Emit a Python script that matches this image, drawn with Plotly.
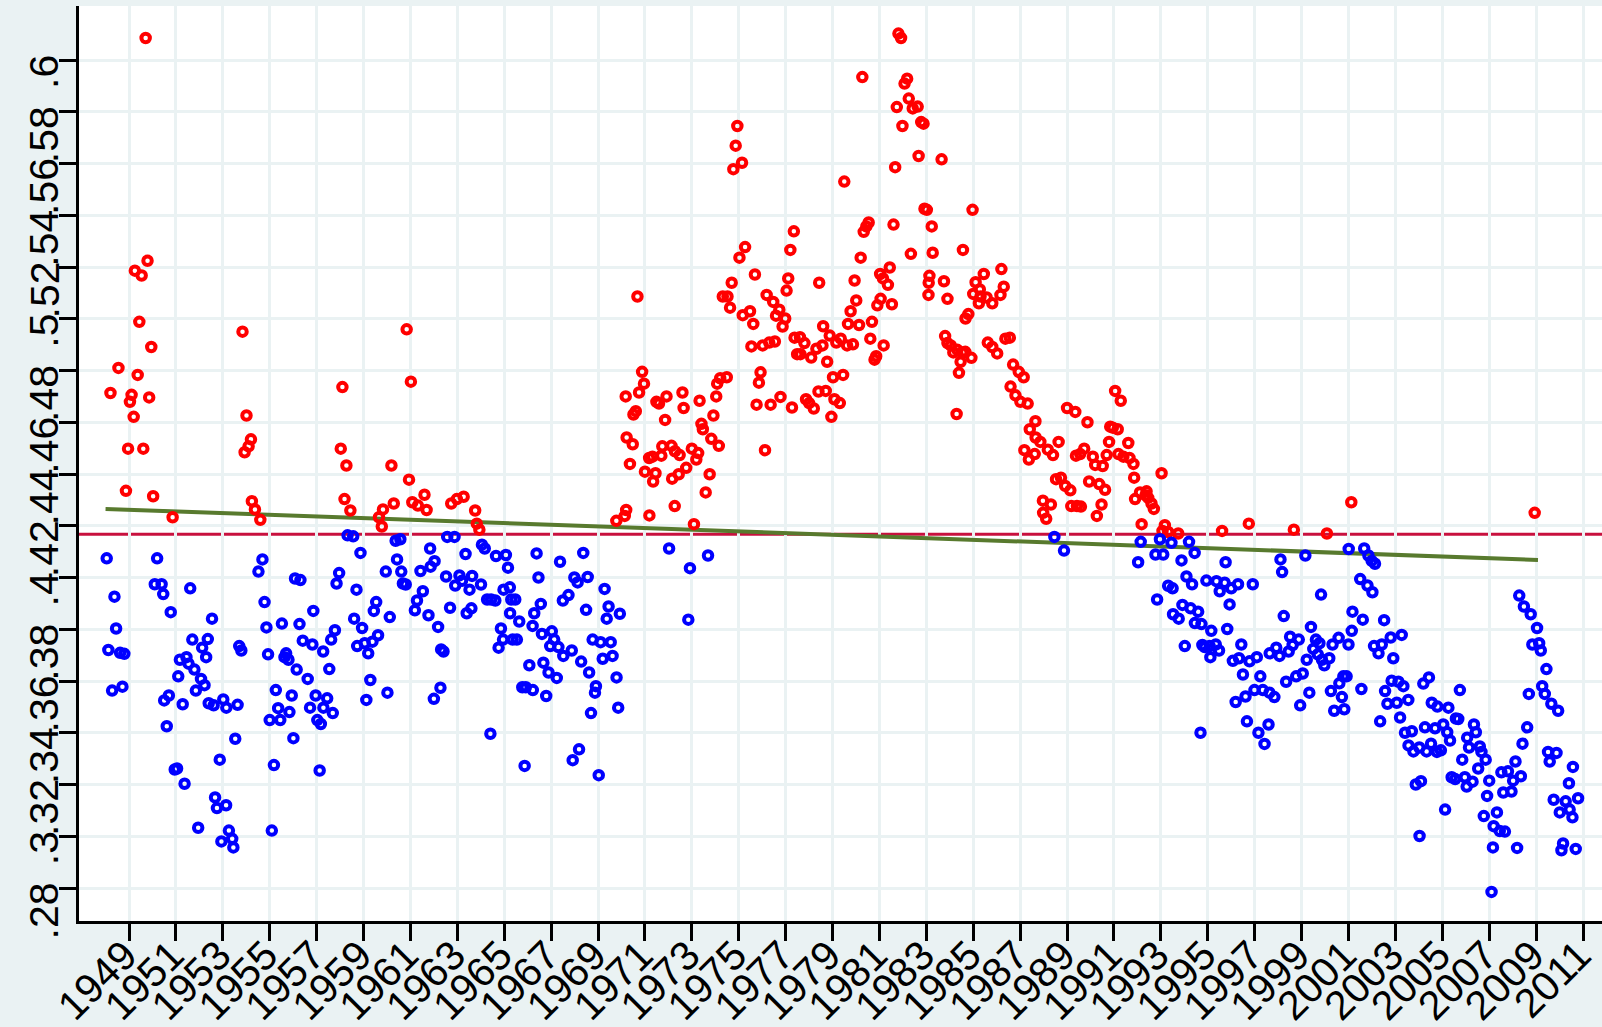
import plotly.graph_objects as go

# ---------------- data ----------------
red_x = [1949.71,1949.25,1949.54,1949.79,1949.44,1949.95,1948.55,1949.37,1948.21,1949.11,1949.04,1949.86,1949.20,1948.96,1949.61,1948.87,1950.03,1950.86,
         1953.84,1954.01,1954.20,1954.10,1953.93,1954.24,1954.37,1954.60,
         1958.10,1958.03,1958.27,1958.19,1958.44,1960.84,1961.02,1960.19,1960.94,1961.60,1961.08,1961.32,1961.69,1960.29,1959.83,1959.66,1959.78,
         1962.74,1962.98,1963.27,1963.76,1963.83,1963.94,
         1969.78,1970.14,1970.20,1971.19,1970.36,1970.22,1970.48,1970.18,1970.51,1970.61,1970.75,1970.96,1970.88,1970.68,1971.00,1971.18,1971.32,
         1971.45,1971.35,1971.70,1971.74,1971.49,1971.60,1971.92,1971.86,1972.13,1972.28,1972.48,1972.16,1972.44,1972.76,1972.27,1972.60,1972.65,
         1973.00,1973.27,1973.19,1973.33,1973.47,1973.41,1973.76,1973.59,1973.09,1973.83,1973.92,1974.15,1974.04,1974.08,1974.21,1974.32,
         1974.49,1974.94,1974.87,1975.14,1974.77,1975.27,1975.03,1974.70,1974.52,1974.63,1975.69,1975.17,1975.48,1975.62,1976.19,1976.47,1976.73,
         1976.59,1976.98,1976.87,1975.54,1976.02,1976.30,1976.54,1975.93,1975.86,1975.76,1976.36,1976.78,1976.12,1977.35,1977.20,1977.11,1977.04,
         1977.38,1977.61,1977.80,1977.49,1977.63,1978.09,1978.31,1978.57,1978.43,1977.27,1977.87,1978.00,1978.20,1978.40,1978.71,1978.77,1978.60,
         1978.88,1979.16,1979.35,1979.62,1979.87,1979.02,1979.45,1979.08,1979.31,1978.95,1979.66,1980.13,1979.77,1980.01,1979.94,1979.50,1980.27,
         1980.20,1980.33,1980.44,1980.54,1980.61,1980.79,1980.86,1981.18,1980.68,1980.91,1981.05,1981.03,1981.15,1981.44,1981.36,1981.53,1981.60,
         1981.67,1981.74,1981.98,1982.07,1982.18,1982.25,1982.42,1982.63,1982.78,1982.88,1982.67,1981.81,1981.92,1982.34,1982.92,1983.02,1983.23,
         1983.27,1983.13,1983.10,1983.09,
         1983.65,1983.75,1983.90,1984.97,1984.56,1983.80,1983.90,1984.04,1984.15,1984.32,1984.53,1984.66,1984.92,1984.46,1984.39,1984.29,1984.67,
         1984.79,1985.00,1985.10,1985.28,1985.45,1985.31,1985.24,1985.57,1985.81,1986.16,1986.30,1986.20,1985.62,1985.81,1986.02,1986.37,1986.56,
         1986.70,1986.94,1987.15,1986.59,1986.80,1987.01,1987.32,1987.65,1987.41,1987.66,1987.86,1988.18,1988.40,1988.64,1987.18,1987.37,1987.62,
         1988.53,1988.74,1988.92,1989.14,1987.97,1988.31,1987.98,1988.11,1989.00,1989.35,1989.87,1989.18,1989.42,1989.59,1989.38,1989.56,1989.73,
         1989.94,1990.10,1990.20,1990.37,1990.62,1990.47,1990.27,1990.52,1990.69,1990.79,1990.84,1991.05,1991.29,1990.95,1991.16,1991.19,1991.40,
         1991.61,1991.66,1991.83,1991.86,1991.90,1992.11,1992.18,
         1992.39,1992.46,1992.60,1992.70,1992.35,1993.03,1993.17,1993.31,1993.74,1993.07,1995.61,1996.75,1998.67,2000.08,2001.12,2008.94]
red_y = [.6085,.5186,.5167,.5224,.4988,.4891,.4810,.4783,.4713,.4706,.4679,.4696,.4621,.4498,.4498,.4335,.4314,.4233,
         .4950,.4626,.4534,.4507,.4484,.4295,.4263,.4223,
         .4736,.4498,.4433,.4303,.4259,.4959,.4757,.4433,.4378,.4320,.4291,.4278,.4261,.4286,.4263,.4233,.4197,
         .4286,.4303,.4312,.4259,.4208,.4185,
         .4219,.4238,.4261,.4240,.4439,.4541,.4515,.4700,.4630,.4643,.4715,.4749,.4795,.5086,.4409,.4462,.4467,
         .4403,.4371,.4471,.4507,.4679,.4672,.4700,.4609,.4509,.4488,.4473,.4382,.4399,.4424,.4276,.4715,.4655,
         .4498,.4481,.4456,.4683,.4573,.4594,.4399,.4329,.4206,.4536,.4626,.4509,.4700,.4749,.4770,.5086,
         .4774,.5745,.5669,.5603,.5578,.5277,.5236,.5139,.5086,.5043,.5171,.5014,.5029,.4980,.5092,.5065,.5035,
         .5012,.5001,.4970,.4893,.4897,.4908,.4912,.4793,.4753,.4668,.4668,.4698,.4492,.5338,.5266,.5156,.5109,
         .4927,.4929,.4906,.4863,.4863,.4850,.4884,.4897,.5139,.4657,.4689,.4674,.4653,.4719,.4721,.4834,.4971,
         .4935,.4908,.4923,.4897,.4901,.4774,.4783,.4689,.4674,.4621,.4980,.4976,.5029,.5071,.5148,.5530,.5934,
         .5236,.5336,.5357,.5372,.4923,.4842,.4855,.4897,.4988,.5052,.5077,.5173,.5156,.5198,.5131,.5056,.5364,
         .5586,.5818,.5745,.5909,.5928,.5851,.5813,.5820,.5760,.5754,.5629,.6102,.6085,.5251,.5425,.5421,.5357,
         .5255,.5166,.5139,.5092,
         .5616,.5145,.5077,.5421,.5266,.4933,.4906,.4897,.4870,.4880,.4870,.4872,.4849,.4834,.4791,.4632,.5001,
         .5018,.5096,.5141,.5113,.5173,.5086,.5060,.5082,.5060,.5092,.5124,.5192,.4908,.4891,.4866,.4923,.4927,
         .4823,.4795,.4774,.4738,.4704,.4679,.4672,.4604,.4573,.4541,.4524,.4494,.4473,.4524,.4492,.4456,.4477,
         .4380,.4386,.4354,.4337,.4297,.4282,.4250,.4227,.4655,.4640,.4600,.4276,.4276,.4274,.4471,.4477,.4498,
         .4371,.4467,.4435,.4361,.4339,.4282,.4238,.4431,.4473,.4524,.4583,.4721,.4683,.4579,.4573,.4477,.4467,
         .4520,.4462,.4439,.4386,.4303,.4329,.4206,
         .4333,.4308,.4286,.4265,.4318,.4403,.4202,.4176,.4170,.4180,.4180,.4208,.4185,.4170,.4291,.4250]

blue_x = [1948.05,1948.38,1948.45,1948.12,1948.62,1948.80,1948.28,1948.72,1950.20,1950.10,1950.39,1950.46,1950.78,1951.61,1952.54,1951.70,
          1952.36,1952.12,1952.29,1951.17,1951.45,1951.54,1951.79,1952.07,1952.22,1951.85,1951.10,1950.70,1950.50,1951.29,1952.40,1952.61,
          1953.02,1953.15,1953.63,1950.61,1953.53,1952.87,1950.95,1951.05,1951.37,1952.67,1952.75,1953.14,1951.95,1953.26,1952.94,1953.40,
          1953.45,1953.70,1953.79,1955.09,1954.69,1954.52,1954.78,1954.86,1955.52,1954.93,1955.26,1955.63,1955.70,1955.80,1955.36,1955.00,
          1955.45,1955.84,1955.94,1956.01,1955.18,1956.15,1956.08,1956.27,1956.31,1956.41,
          1958.32,1958.56,1958.87,1957.96,1957.85,1958.70,1956.86,1957.78,1957.62,1957.28,1956.82,1957.54,1956.62,1956.96,1957.45,1956.72,
          1957.29,1957.69,1957.03,1957.18,1957.13,1958.60,1958.94,1958.73,1959.05,1959.20,1959.38,1959.62,1959.44,1959.54,1960.12,1959.95,
          1959.29,1959.12,1960.02,1960.37,1960.57,1960.43,1960.61,1960.68,1960.80,1961.84,1962.03,1961.86,1961.43,1961.53,1961.28,1961.19,
          1961.77,1962.18,1962.31,1962.41,1962.28,1962.00,1962.52,1962.69,1962.57,1962.88,1962.91,1963.09,1963.35,1963.20,1963.52,1963.63,
          1964.01,1963.60,1963.40,1964.05,1964.17,1964.27,1964.44,1964.62,1964.65,1965.07,1965.16,1964.97,1965.24,1965.30,1965.25,1964.86,
          1964.95,1964.76,1965.36,1964.41,
          1966.38,1966.46,1965.47,1966.56,1966.28,1965.64,1966.21,1965.54,1966.61,1967.03,1967.13,1966.96,1966.07,1966.67,1966.89,1967.24,
          1965.77,1965.92,1966.22,1966.79,1967.38,1967.99,1968.13,1968.56,1968.37,1967.74,1967.50,1968.49,1967.31,1967.52,1967.88,1968.28,
          1968.62,1968.91,1968.87,1968.70,1968.77,1969.11,1969.54,1969.20,1969.62,1969.28,1969.45,1969.37,1969.93,1969.79,1969.86,1968.19,
          1967.92,1969.03,1965.87,1972.03,1972.92,1973.69,1972.85,
          1988.46,1988.87,1992.14,1992.03,
          1992.96,1992.77,1993.10,1993.45,1994.20,1993.88,1994.44,1992.84,1993.31,1993.50,1994.09,1994.33,1993.52,1993.76,1993.92,1994.27,
          1994.59,1994.45,1994.73,1995.15,1994.77,1994.87,1995.08,1995.34,1995.11,1995.48,1994.02,1994.69,1994.94,1995.37,1995.51,1995.76,
          1995.72,1996.00,1996.29,1995.93,1995.83,1996.92,1996.43,1996.07,1996.33,1996.78,1997.09,1996.50,1996.19,1996.61,1996.99,1997.24,
          1997.35,1997.63,1997.84,1996.67,1997.16,1997.42,1997.59,1997.64,1997.92,1998.06,1998.45,1998.51,1998.62,1998.88,1998.34,1998.10,
          1998.17,1998.24,1999.16,1998.77,1999.05,1998.94,1999.22,1999.33,1999.40,1999.50,1999.61,1999.76,1999.69,1999.87,1999.97,2000.18,
          2000.32,2000.58,2001.00,1999.83,2000.25,2000.39,2000.61,2000.78,2000.92,2000.72,2000.82,2001.01,2001.17,2001.14,
          2001.67,2001.85,2001.99,2002.13,2001.50,2001.81,2002.02,2001.61,2002.52,2002.80,2003.27,2002.09,2002.42,2002.28,2002.91,2001.55,
          2002.56,2002.66,2002.84,2003.13,2003.34,2003.06,2003.55,2002.35,2003.20,2003.41,2003.70,2003.56,2003.77,2004.02,2004.33,2003.87,
          2004.09,2004.03,2004.19,2004.43,2004.26,2004.55,2004.79,2004.52,2004.77,2004.94,2004.69,2005.04,2005.21,2005.26,2005.33,2005.12,
          2005.58,2005.68,2005.75,2005.40,2005.55,2005.85,2005.96,2006.04,2006.29,2006.06,2006.14,2006.35,2006.43,2006.60,2006.67,2006.53,
          2006.85,2007.00,2006.77,2006.91,2007.19,2007.33,2007.45,2007.67,2007.16,2008.19,2007.52,2007.80,2007.60,2007.95,2008.02,2008.12,
          2008.35,2008.42,2008.62,2008.69,2008.28,2008.48,2008.77,2009.04,2008.84,2009.13,2009.20,2009.44,2009.26,2009.37,2009.65,2009.94,
          2009.51,2009.87,2009.58,2010.57,2010.40,2009.75,2010.01,2010.26,2010.43,2010.79,2010.55,2010.15,2010.08,2010.69,2007.10]
blue_y = [.4074,.3926,.3803,.3720,.3709,.3705,.3563,.3578,.4074,.3974,.3974,.3936,.3866,.3958,.3841,.3760,
          .3762,.3729,.3692,.3682,.3692,.3667,.3644,.3608,.3584,.3563,.3618,.3544,.3525,.3510,.3514,.3506,
          .3529,.3497,.3508,.3425,.3377,.3296,.3258,.3262,.3203,.3150,.3109,.3120,.3033,.3022,.2980,.2990,
          .2957,.3735,.3718,.3022,.4070,.4023,.3905,.3807,.3822,.3703,.3565,.3692,.3707,.3682,.3495,.3449,
          .3449,.3480,.3544,.3379,.3275,.3644,.3996,.3820,.3990,.3756,
          .4163,.4159,.4095,.4017,.3977,.3953,.3871,.3796,.3760,.3714,.3741,.3646,.3608,.3544,.3533,.3497,
          .3497,.3476,.3449,.3434,.3254,.3841,.3805,.3735,.3746,.3707,.3752,.3777,.3871,.3905,.3847,.4023,
          .3604,.3527,.3555,.4142,.4148,.4070,.4023,.3977,.3973,.4112,.4063,.4042,.4025,.3947,.3911,.3873,
          .3854,.3809,.3722,.3714,.3574,.3531,.4004,.3883,.4157,.4157,.3969,.4008,.4091,.3987,.3953,.4006,
          .3973,.3881,.3862,.4127,.4112,.3915,.3915,.3911,.4083,.4087,.4038,.3953,.3962,.3915,.3862,.3803,
          .3760,.3729,.3760,.3396,
          .4093,.4000,.3915,.3898,.3862,.3830,.3813,.3760,.3782,.3792,.3760,.3735,.3661,.3671,.3633,.3612,
          .3576,.3576,.3565,.3542,.4061,.4000,.3981,.4002,.4095,.3932,.3911,.3875,.3731,.3697,.3718,.3675,
          .3633,.3580,.3555,.3476,.3760,.3750,.3750,.3686,.3697,.3956,.3888,.3841,.3860,.3614,.3497,.3336,
          .3294,.3236,.3272,.4112,.4036,.4085,.3837,
          .4157,.4104,.4138,.4059,
          .4148,.4089,.4089,.4134,.4138,.4066,.4095,.3915,.3968,.3958,.4004,.3974,.3858,.3841,.3894,.3881,
          .3868,.3824,.3820,.3794,.3739,.3731,.3735,.3741,.3692,.3718,.3735,.3400,.3988,.3986,.3947,.4059,
          .3980,.3958,.3974,.3896,.3801,.3974,.3741,.3678,.3688,.3676,.3692,.3625,.3519,.3540,.3565,.3618,
          .3565,.3555,.3538,.3444,.3400,.3357,.3432,.3707,.3729,.3697,.3714,.3771,.3739,.3760,.3597,.4070,
          .4021,.3851,.4085,.3618,.3629,.3506,.3682,.3555,.3809,.3724,.3760,.3746,.3703,.3682,.3661,.3688,
          .3741,.3767,.3741,.3934,.3561,.3485,.3591,.3618,.3618,.3538,.3491,.4110,.3868,.3794,
          .4112,.4085,.4064,.4053,.3994,.3969,.3943,.3837,.3835,.3768,.3778,.3735,.3741,.3707,.3688,.3569,
          .3561,.3512,.3601,.3597,.3580,.3516,.3527,.3444,.3459,.3400,.3406,.3351,.3328,.3343,.3328,.3200,
          .3213,.3001,.3590,.3614,.3421,.3516,.3501,.3358,.3326,.3332,.3417,.3432,.3402,.3497,.3370,.3103,
          .3455,.3453,.3565,.3228,.3221,.3296,.3228,.3192,.3211,.3381,.3343,.3432,.3402,.3347,.3326,.3262,
          .3296,.3215,.3078,.3156,.3039,.3092,.3020,.3018,.2957,.2955,.3247,.3251,.3169,.3173,.3215,.3289,
          .3232,.3358,.3421,.3550,.3930,.3888,.3858,.3805,.3741,.3746,.3718,.3646,.3580,.3550,.3512,.3485,
          .3326,.3322,.3289,.3268,.3205,.3141,.3092,.3135,.3103,.3147,.3073,.2972,.2946,.2951,.2785]

threshold_y = 0.4167            # horizontal reference line
fit_x = [1948.0, 2009.08]       # linear trend line end points
fit_y = [0.4265, 0.4068]

x_tick_years = list(range(1949, 2012, 2))
y_tick_vals = [0.28, 0.30, 0.32, 0.34, 0.36, 0.38, 0.40, 0.42, 0.44, 0.46, 0.48, 0.50, 0.52, 0.54, 0.56, 0.58, 0.60]
y_tick_text = [".28", ".3", ".32", ".34", ".36", ".38", ".4", ".42", ".44", ".46", ".48", ".5", ".52", ".54", ".56", ".58", ".6"]

# ---------------- styling ----------------
BG = "#EAF2F3"
FONT = "Liberation Sans, Arial, sans-serif"
LABEL_SIZE = 41

fig = go.Figure()

fig.add_trace(go.Scatter(x=fit_x, y=fit_y, mode="lines",
                         line=dict(color="#587A2E", width=4), hoverinfo="skip", showlegend=False))
fig.add_trace(go.Scatter(x=red_x, y=red_y, mode="markers",
                         marker=dict(symbol="circle-open", size=8.5, color="#FF0000", line=dict(width=4, color="#FF0000")),
                         showlegend=False))
fig.add_trace(go.Scatter(x=blue_x, y=blue_y, mode="markers",
                         marker=dict(symbol="circle-open", size=8.5, color="#0000FF", line=dict(width=4, color="#0000FF")),
                         showlegend=False))

fig.add_shape(type="line", xref="paper", x0=0, x1=1, yref="y", y0=threshold_y, y1=threshold_y,
              line=dict(color="#C8103E", width=3), layer="between")

annotations = []
for v, t in zip(y_tick_vals, y_tick_text):
    annotations.append(dict(xref="paper", x=0, xshift=-10, xanchor="right",
                            yref="y", y=v, yshift=7, yanchor="top",
                            text=t, textangle=-90, showarrow=False,
                            font=dict(family=FONT, size=LABEL_SIZE, color="black")))

fig.update_layout(
    width=1602, height=1027,
    margin=dict(l=79, r=0, t=6, b=106, autoexpand=False),
    paper_bgcolor=BG, plot_bgcolor="white",
    showlegend=False,
    annotations=annotations,
    font=dict(family=FONT, size=LABEL_SIZE, color="black"),
)
fig.update_xaxes(range=[1946.868, 2011.81], tickmode="array", tickvals=x_tick_years,
                 ticktext=[str(y) for y in x_tick_years], tickangle=-45,
                 tickfont=dict(family=FONT, size=LABEL_SIZE, color="black"),
                 ticklabelstandoff=-26, ticklabelshift=-4, ticklabeloverflow="allow",
                 showgrid=True, gridcolor=BG, gridwidth=3, zeroline=False,
                 showline=True, linecolor="black", linewidth=2.5,
                 ticks="outside", ticklen=17, tickwidth=2.5, tickcolor="black", automargin=False)
fig.update_yaxes(range=[0.26725, 0.62087], tickmode="array", tickvals=y_tick_vals,
                 showticklabels=False,
                 showgrid=True, gridcolor=BG, gridwidth=3, zeroline=False,
                 showline=True, linecolor="black", linewidth=2.5,
                 ticks="outside", ticklen=17, tickwidth=2.5, tickcolor="black", automargin=False)

fig.write_html("out.html", config={"displayModeBar": False},
               post_script="document.body.style.margin='0px';document.body.style.overflow='hidden';")
